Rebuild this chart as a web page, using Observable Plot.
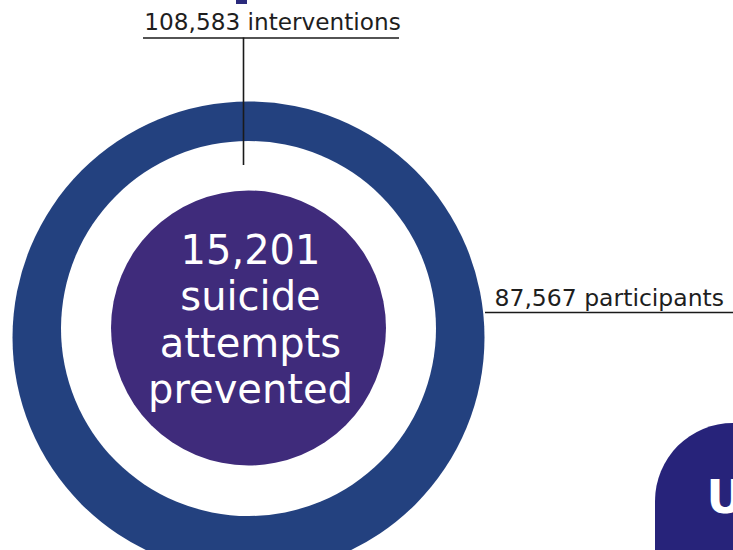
<!DOCTYPE html>
<html>
<head>
<meta charset="utf-8">
<script src="https://cdn.jsdelivr.net/npm/d3@7"></script>
<script src="https://cdn.jsdelivr.net/npm/@observablehq/plot@0.6"></script>
<style>
  html, body { margin: 0; padding: 0; background: #fff; }
  svg { display: block; }
</style>
</head>
<body>
<div id="chart"></div>
<script>
// ---- data ----
const statKeys = ["interventions", "participants", "prevented"];
const statValues = [108583, 87567, 15201];
const statLabels = ["interventions", "participants", "suicide attempts prevented"];
const centerLines = ["15,201", "suicide", "attempts", "prevented"];
const sideLetter = ["U"];

// ---- layout (pixel space) ----
const W = 733, H = 550;
const cx = 248;
const fmt = d3.format(",");
const font = "'DejaVu Sans', sans-serif";

const topLabel = [{x: 272, y: 29, text: `${fmt(statValues[0])} ${statLabels[0]}`}];
const rightLabel = [{x: 494, y: 305, text: `${fmt(statValues[1])} ${statLabels[1]}`}];
const centerText = centerLines.map((t, i) => ({x: cx + 2, y: 263 + i * 46.5, text: t}));

const chart = Plot.plot({
  width: W,
  height: H,
  margin: 0,
  x: {domain: [0, W], range: [0, W], axis: null},
  y: {domain: [0, H], range: [0, H], axis: null},
  marks: [
    // partial title glyph at top
    Plot.rect([0], {x1: 236, x2: 247, y1: 0, y2: 4, fill: "#2a2a7c"}),
    // outer ring, white gap, inner circle
    Plot.dot([0], {x: cx, y: 337, r: 236, fill: "#23417f", stroke: null}),
    Plot.dot([0], {x: cx, y: 328, r: 187.5, fill: "#ffffff", stroke: null}),
    Plot.dot([0], {x: cx, y: 327.5, r: 137.5, fill: "#3f2b7b", stroke: null}),
    // leader lines
    Plot.ruleY([37.5], {x1: 143, x2: 399, stroke: "#1a1a1a", strokeWidth: 1.6}),
    Plot.ruleX([243], {y1: 37.5, y2: 165, stroke: "#1a1a1a", strokeWidth: 1.6}),
    Plot.ruleY([312], {x1: 485, x2: W, stroke: "#1a1a1a", strokeWidth: 1.6}),
    // labels
    Plot.text(topLabel, {x: "x", y: "y", text: "text", textAnchor: "middle", lineAnchor: "bottom",
      fontSize: 23.2, fontFamily: font, fontWeight: 400, fill: "#1e1e1e"}),
    Plot.text(rightLabel, {x: "x", y: "y", text: "text", textAnchor: "start", lineAnchor: "bottom",
      fontSize: 23.5, fontFamily: font, fontWeight: 400, fill: "#1e1e1e"}),
    Plot.text(centerText, {x: "x", y: "y", text: "text", textAnchor: "middle", lineAnchor: "bottom",
      fontSize: 40, fontFamily: font, fontWeight: 400, fill: "#ffffff"}),
    // partial side panel
    Plot.rect([0], {x1: 655, x2: 900, y1: 423, y2: 700, fill: "#27237a", rx: 78}),
    Plot.text(sideLetter, {x: 706, y: 512, text: d => d, textAnchor: "start", lineAnchor: "bottom",
      fontSize: 46, fontFamily: font, fontWeight: 700, fill: "#ffffff"})
  ]
});
document.getElementById("chart").appendChild(chart);
</script>
</body>
</html>
